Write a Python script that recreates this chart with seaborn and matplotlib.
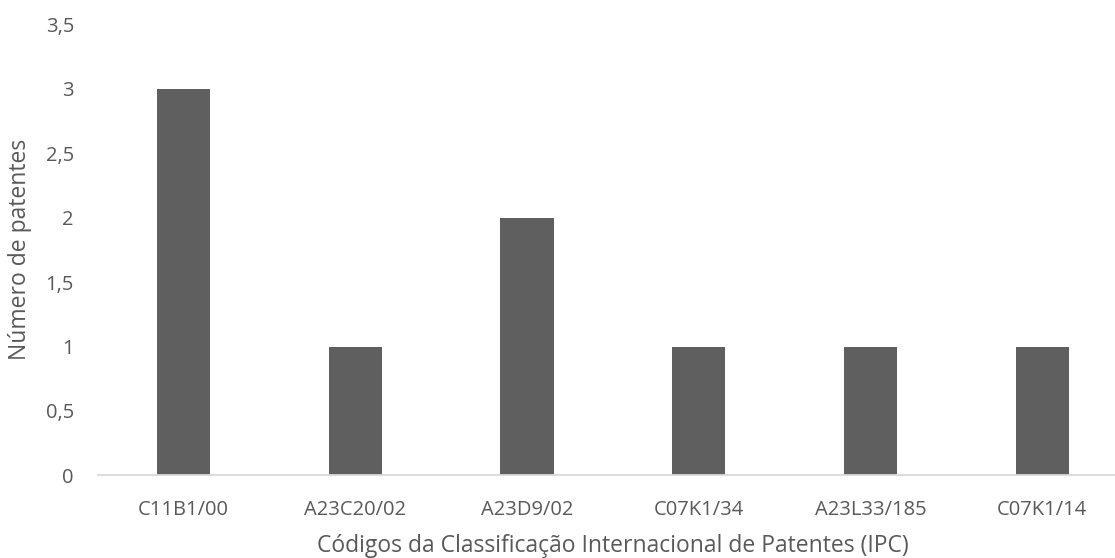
import matplotlib
matplotlib.use("Agg")
import matplotlib.pyplot as plt
import seaborn as sns
import pandas as pd
from matplotlib.ticker import FuncFormatter, MultipleLocator

codes = ["C11B1/00", "A23C20/02", "A23D9/02", "C07K1/34", "A23L33/185", "C07K1/14"]
patents = [3, 1, 2, 1, 1, 1]

df = pd.DataFrame({"code": codes, "n": patents})

sns.set_theme(style="white")
plt.rcParams["font.family"] = ["Open Sans", "DejaVu Sans"]

text_color = "#595959"
fig = plt.figure(figsize=(11.15, 5.58), dpi=100)
ax = fig.add_axes([0.0875, 0.148, 0.9242, 0.8086])

sns.barplot(data=df, x="code", y="n", color="#5f5f5f", width=0.31,
            saturation=1, linewidth=0, ax=ax)

ax.set_xlim(-0.5, len(codes) - 0.5)
ax.set_ylim(0, 3.5)
ax.yaxis.set_major_locator(MultipleLocator(0.5))
ax.yaxis.set_major_formatter(FuncFormatter(
    lambda v, _: (f"{v:g}").replace(".", ",")))

for s in ["top", "right", "left"]:
    ax.spines[s].set_visible(False)
ax.spines["bottom"].set_color("#d9d9d9")
ax.spines["bottom"].set_linewidth(1.3)
ax.spines["bottom"].set_clip_on(False)

ax.tick_params(axis="both", length=0, labelsize=14.5, colors=text_color)
ax.tick_params(axis="x", pad=18)
ax.tick_params(axis="y", pad=17)

ax.set_xlabel("Códigos da Classificação Internacional de Patentes (IPC)",
              fontsize=16.5, color=text_color, labelpad=10)
ax.set_ylabel("Número de patentes", fontsize=16.5, color=text_color, labelpad=10)

fig.savefig("out.png", dpi=100)
